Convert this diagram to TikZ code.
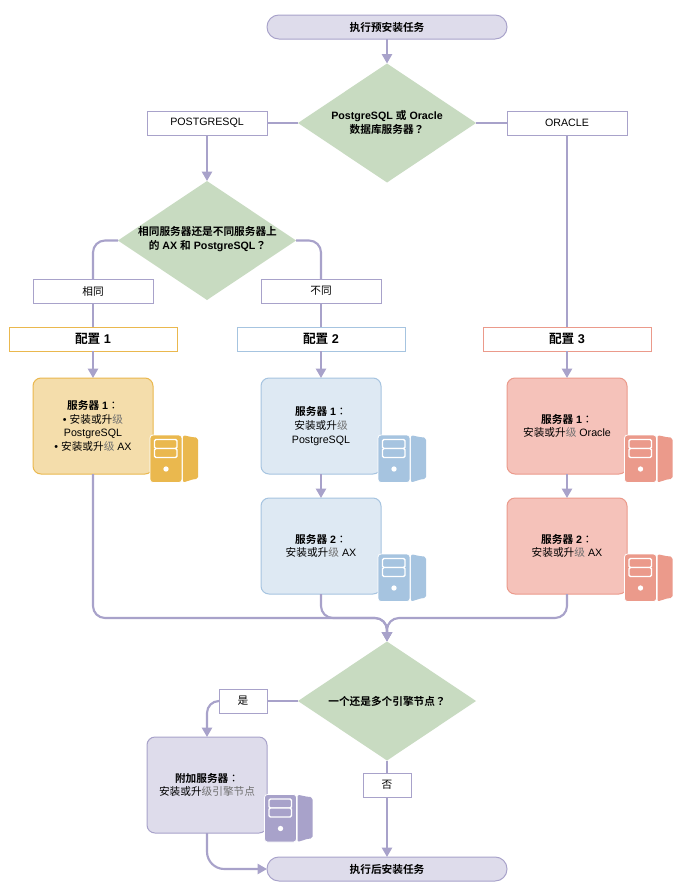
\documentclass[tikz,border=0pt]{standalone}
\usepackage{fontspec}
\setmainfont{Liberation Sans}
\newfontfamily\cjk[BoldFont=Noto Sans CJK SC Bold]{Noto Sans CJK SC}
\newfontfamily\cjkp[BoldFont=Noto Sans CJK TC Bold]{Noto Sans CJK TC}
\usetikzlibrary{shapes.geometric,arrows.meta}
\definecolor{purp}{HTML}{A8A2CA}
\definecolor{purpf}{HTML}{DEDCEB}
\definecolor{greenf}{HTML}{C8DBC1}
\definecolor{orans}{HTML}{EAB84E}
\definecolor{oranf}{HTML}{F4DDAB}
\definecolor{blues}{HTML}{A6C4E0}
\definecolor{bluef}{HTML}{DEE9F3}
\definecolor{reds}{HTML}{EB9A8B}
\definecolor{redf}{HTML}{F5C2BA}
\definecolor{greyt}{HTML}{707070}
\newcommand{\zh}[1]{{\cjk #1}}
\newcommand{\zp}[1]{{\cjkp #1}}
\newcommand{\gj}{{\cjk\color{greyt}级}}
\tikzset{
  base/.style={inner sep=0pt,outer sep=0pt,align=center,font=\fontsize{8pt}{10.2pt}\selectfont,text=black},
  term/.style={base,draw=purp,fill=purpf,line width=0.75pt,rounded corners=8.9pt,minimum width=180pt,minimum height=18pt},
  dec/.style={diamond,inner sep=0pt,outer sep=0pt,fill=greenf,aspect=1.5,minimum width=133.5pt,minimum height=89.25pt},
  dectext/.style={base,font=\fontsize{8pt}{10.6pt}\selectfont\bfseries},
  lab/.style={base,draw=purp,fill=white,line width=0.75pt,minimum height=18pt},
  wide/.style={lab,minimum width=90pt},
  small/.style={lab,minimum width=36pt},
  cfg/.style={base,fill=white,line width=0.75pt,minimum width=126pt,minimum height=18pt,font=\fontsize{9.5pt}{11pt}\selectfont\bfseries},
  srvbox/.style={base,line width=0.75pt,rounded corners=6pt,minimum width=90pt,minimum height=72pt},
  conn/.style={draw=purp,line width=1.6pt,rounded corners=9pt},
  arr/.style={conn,-{Triangle[length=7pt,width=7.5pt]}},
  pics/srv/.style={code={
    \fill[#1,rounded corners=1.5pt] (33,0.2) -- (44,2.5) to[out=0,in=90] (48,7) -- (48,40) to[out=-90,in=0] (44,44) -- (33,47.5) -- cycle;
    \draw[white,line width=0.6pt,fill=#1,rounded corners=2.2pt] (0,0) rectangle (32,47.5);
    \draw[white,line width=1pt,rounded corners=1pt,fill=#1] (4.5,4.5) rectangle (27,13.5);
    \draw[white,line width=1pt,rounded corners=1pt,fill=#1] (4.5,13.5) rectangle (27,22.5);
    \fill[white] (16,34) circle (2pt);
  }}
}
\begin{document}
\begin{tikzpicture}[x=0.75pt,y=-0.75pt]
\useasboundingbox (0,0) rectangle (680,885);
\fill[white] (0,0) rectangle (680,885);
% coordinates
\coordinate (m) at (387,618);
% nodes
\node[term] (start) at (387,27) {\zh{\textbf{执行预安装任务}}};
\node[dec] (d1) at (387,123) {};
\node[dectext] (d1t) at (387,122.5) {PostgreSQL \zh{或} Oracle\\\zh{数据库服务器}\zp{？}};
\node[wide] (pg) at (207,123) {POSTGRESQL};
\node[wide] (ora) at (567,123) {ORACLE};
\node[dec] (d2) at (207,240.5) {};
\node[dectext] (d2t) at (207.5,239) {\zh{相同服务器还是不同服务器上}\\\zh{的} AX \zh{和} PostgreSQL\zp{？}};
\node[wide] (same) at (93,291) {\zh{相同}};
\node[wide] (diff) at (321,291) {\zh{不同}};
\node[cfg,draw=orans] (c1) at (93,339) {\zh{配置} 1};
\node[cfg,draw=blues] (c2) at (321,339) {\zh{配置} 2};
\node[cfg,draw=reds] (c3) at (567,339) {\zh{配置} 3};
\node[srvbox,draw=orans,fill=oranf] (s1) at (93,426) {\textbf{\zh{服务器} 1}\zp{：}\\• \zh{安装或升}\gj\\PostgreSQL\\• \zh{安装或升}\gj{} AX};
\node[srvbox,draw=blues,fill=bluef] (b1) at (321,426) {\textbf{\zh{服务器} 1}\zp{：}\\\zh{安装或升}\gj\\PostgreSQL};
\node[srvbox,draw=blues,fill=bluef] (b2) at (321,546) {\textbf{\zh{服务器} 2}\zp{：}\\\zh{安装或升}\gj{} AX};
\node[srvbox,draw=reds,fill=redf] (r1) at (567,426) {\textbf{\zh{服务器} 1}\zp{：}\\\zh{安装或升}\gj{} Oracle};
\node[srvbox,draw=reds,fill=redf] (r2) at (567,546) {\textbf{\zh{服务器} 2}\zp{：}\\\zh{安装或升}\gj{} AX};
\node[dec] (d3) at (387,701) {};
\node[dectext] (d3t) at (387,701) {\zh{一个还是多个引擎节点}\zp{？}};
\node[small] (yes) at (243,701) {\zh{是}};
\node[small] (no) at (387,785) {\zh{否}};
\node[srvbox,draw=purp,fill=purpf] (x1) at (207,785) {\textbf{\zh{附加服务器}}\zp{：}\\\zh{安装或升}\gj\zh{\color{greyt}引擎节点}};
\node[term] (end) at (387,869) {\zh{\textbf{执行后安装任务}}};
% icons
\pic at (150,435) {srv=orans};
\pic at (378,435) {srv=blues};
\pic at (378,554) {srv=blues};
\pic at (624.5,435) {srv=reds};
\pic at (624.5,554) {srv=reds};
\pic at (264.5,794.5) {srv=purp};
% connectors
\draw[arr] (start) -- (d1.north);
\draw[conn] (d1.west) -- (pg.east);
\draw[conn] (d1.east) -- (ora.west);
\draw[arr] (pg.south) -- (d2.north);
\draw[conn] (ora.south) -- (c3.north);
\draw[conn] (d2.west) -| (same.north);
\draw[conn] (d2.east) -| (diff.north);
\draw[conn] (same.south) -- (c1.north);
\draw[conn] (diff.south) -- (c2.north);
\draw[arr] (c1.south) -- (s1.north);
\draw[arr] (c2.south) -- (b1.north);
\draw[arr] (c3.south) -- (r1.north);
\draw[arr] (b1.south) -- (b2.north);
\draw[arr] (r1.south) -- (r2.north);
\draw[arr] (s1.south) |- (m) -- (d3.north);
\draw[arr] (b2.south) |- (m) -- (d3.north);
\draw[arr] (r2.south) |- (m) -- (d3.north);
\draw[conn] (d3.west) -- (yes.east);
\draw[arr] (yes.west) -| (x1.north);
\draw[conn] (d3.south) -- (no.north);
\draw[arr] (no.south) -- (end.north);
\draw[arr,rounded corners=13pt] (x1.south) |- (end.west);
\end{tikzpicture}
\end{document}
